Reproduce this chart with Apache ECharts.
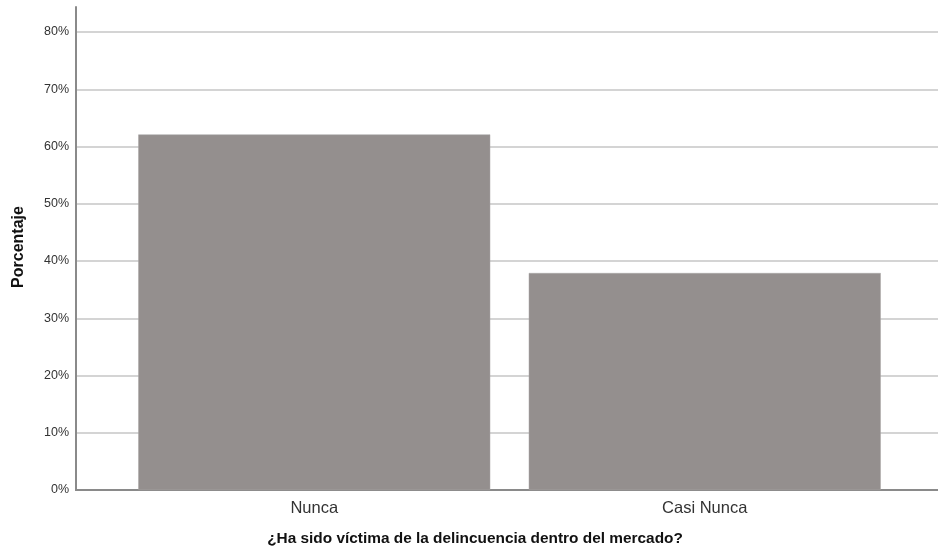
<!DOCTYPE html>
<html><head><meta charset="utf-8">
<script src="https://cdn.jsdelivr.net/npm/echarts@6/dist/echarts.min.js"></script>
<style>html,body{margin:0;padding:0;background:#fff}#c{width:938px;height:556px}</style>
</head><body><div id="c"></div>
<script>
const categories = ['Nunca', 'Casi Nunca'];
const values = [62.1, 37.9];
const yTicks = [0, 10, 20, 30, 40, 50, 60, 70, 80];
const xTitle = '¿Ha sido víctima de la delincuencia dentro del mercado?';
const yTitle = 'Porcentaje';

const chart = echarts.init(document.getElementById('c'), null, {renderer: 'canvas'});
const FONT = '"Liberation Sans", Arial, sans-serif';
const AX = {color: '#8a8a8a', width: 2};
chart.setOption({
  animation: false,
  grid: [
    {left: 76, right: 0, top: 32, bottom: 66},
    {left: 119, right: 38, top: 32, bottom: 66},
    {left: 76, right: 0, top: 7, bottom: 66}
  ],
  xAxis: [
    {type: 'value', gridIndex: 0, min: 0, max: 1, axisLine: {show: true, lineStyle: AX},
     axisTick: {show: false}, axisLabel: {show: false}, splitLine: {show: false}},
    {type: 'category', gridIndex: 1, data: categories, boundaryGap: true,
     axisLine: {show: false}, axisTick: {show: false},
     axisLabel: {color: '#333', fontSize: 16.5, fontFamily: FONT, margin: 10}},
    {type: 'value', gridIndex: 2, min: 0, max: 1, show: false}
  ],
  yAxis: [
    {type: 'value', gridIndex: 0, min: 0, max: 80, interval: 10,
     axisLine: {show: true, lineStyle: AX},
     axisTick: {show: false},
     axisLabel: {color: '#333', fontSize: 12.5, fontFamily: FONT, margin: 7,
       formatter: v => (yTicks.indexOf(v) >= 0 ? v + '%' : '')},
     splitLine: {show: true, lineStyle: {color: '#d4d4d4', width: 2}}},
    {type: 'value', gridIndex: 1, min: 0, max: 80, show: false, splitLine: {show: false}},
    {type: 'value', gridIndex: 2, min: 0, max: 84.4,
     axisLine: {show: true, lineStyle: AX}, axisTick: {show: false},
     axisLabel: {show: false}, splitLine: {show: false}}
  ],
  series: [{
    type: 'bar', xAxisIndex: 1, yAxisIndex: 1, data: values, barWidth: 352,
    itemStyle: {color: '#948f8e', borderColor: '#a9a5a4', borderWidth: 0.5}
  }],
  graphic: [
    {type: 'text', x: 475, y: 539, style: {text: xTitle, font: 'bold 15.4px ' + FONT, fill: '#111', align: 'center', verticalAlign: 'middle'}},
    {type: 'text', x: 19, y: 247, rotation: Math.PI / 2, style: {text: yTitle, font: 'bold 16px ' + FONT, fill: '#111', align: 'center', verticalAlign: 'middle'}}
  ]
});
</script></body></html>
